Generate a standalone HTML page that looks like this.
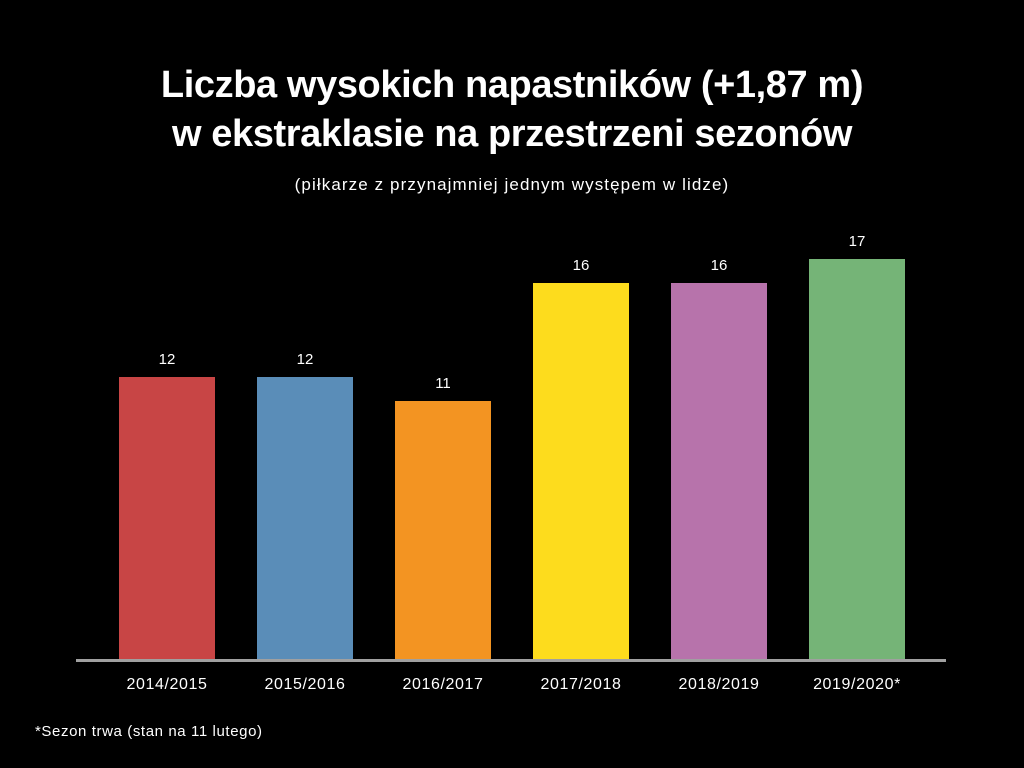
<!DOCTYPE html>
<html><head><meta charset="utf-8"><style>
html,body{margin:0;padding:0;background:#000;}
body{width:1024px;height:768px;position:relative;overflow:hidden;font-family:"Liberation Sans",sans-serif;color:#fff;}
.t{position:absolute;left:0;width:1024px;text-align:center;}
.bar{position:absolute;width:96px;}
.v,.x{position:absolute;width:140px;text-align:center;font-size:15px;}
.x{font-size:16px;letter-spacing:0.6px;}
</style></head><body>
<div class="t" style="top:61px;font-size:38px;font-weight:bold;line-height:49px;letter-spacing:-0.4px;">Liczba wysokich napastników (+1,87 m)<br>w ekstraklasie na przestrzeni sezonów</div>
<div class="t" style="top:175px;font-size:17px;letter-spacing:1.1px;">(piłkarze z przynajmniej jednym występem w lidze)</div>

<div class="bar" style="left:119px;top:377px;height:283px;background:#c84545"></div>
<div class="bar" style="left:257px;top:377px;height:283px;background:#5a8db8"></div>
<div class="bar" style="left:395px;top:401px;height:259px;background:#f39422"></div>
<div class="bar" style="left:533px;top:283px;height:377px;background:#fddc1d"></div>
<div class="bar" style="left:671px;top:283px;height:377px;background:#b773ab"></div>
<div class="bar" style="left:809px;top:259px;height:401px;background:#75b477"></div>
<div style="position:absolute;left:76px;top:659px;width:870px;height:3px;background:#a0a0a0"></div>

<div class="v" style="left:97px;top:351px">12</div>
<div class="v" style="left:235px;top:351px">12</div>
<div class="v" style="left:373px;top:375px">11</div>
<div class="v" style="left:511px;top:257px">16</div>
<div class="v" style="left:649px;top:257px">16</div>
<div class="v" style="left:787px;top:233px">17</div>

<div class="x" style="left:97px;top:676px">2014/2015</div>
<div class="x" style="left:235px;top:676px">2015/2016</div>
<div class="x" style="left:373px;top:676px">2016/2017</div>
<div class="x" style="left:511px;top:676px">2017/2018</div>
<div class="x" style="left:649px;top:676px">2018/2019</div>
<div class="x" style="left:787px;top:676px">2019/2020*</div>

<div style="position:absolute;left:35px;top:723px;font-size:15px;letter-spacing:0.6px;">*Sezon trwa (stan na 11 lutego)</div>
</body></html>
